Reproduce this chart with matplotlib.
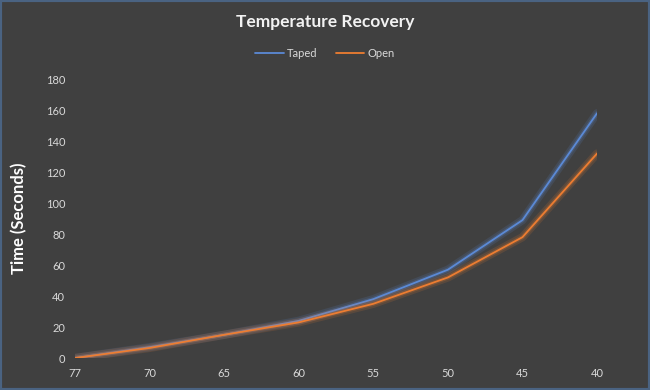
import matplotlib.pyplot as plt
import matplotlib.patheffects as pe
import numpy as np

plt.rcParams["font.family"] = ["Lato", "DejaVu Sans"]

# Données
temps = ["77", "70", "65", "60", "55", "50", "45", "40"]
taped = [0, 7, 15, 24, 38, 57, 89, 158]
open_ = [0, 6.5, 15, 23, 35, 52, 78, 132]

bg = "#404040"
txt = "#D9D9D9"
blue = "#5B8AD6"
orange = "#ED7D31"

fig = plt.figure(figsize=(6.5, 3.9), dpi=100, facecolor=bg)
fig.patches.append(
    plt.Rectangle((0, 0), 1, 1, transform=fig.transFigure, fill=False,
                  edgecolor="#4A6382", linewidth=3)
)
ax = fig.add_axes([0.1154, 0.082, 0.8031, 0.715])
ax.set_facecolor(bg)

x = np.arange(len(temps))
for y, c, name in [(taped, blue, "Taped"), (open_, orange, "Open")]:
    ax.plot(x, y, color=c, lw=1.3, label=name, solid_capstyle="round",
            path_effects=[pe.Stroke(linewidth=6, foreground=c, alpha=0.15),
                          pe.Stroke(linewidth=3.2, foreground=c, alpha=0.22),
                          pe.Normal()])

ax.set_xlim(0, len(temps) - 1)
ax.set_ylim(0, 180)
ax.set_xticks(x)
ax.set_xticklabels(temps)
ax.set_yticks(np.arange(0, 181, 20))
ax.tick_params(colors=txt, labelsize=8, length=0, pad=7)
for s in ax.spines.values():
    s.set_visible(False)

ax.set_ylabel("Time (Seconds)", color="white", fontsize=12, fontweight="bold",
              labelpad=13)
fig.text(0.5, 0.943, "Temperature Recovery", ha="center", va="center",
         color="#F2F2F2", fontsize=12.5, fontweight="bold")

leg = fig.legend(loc="center", bbox_to_anchor=(0.5, 0.864), ncol=2,
                 frameon=False, fontsize=8, labelcolor=txt,
                 handlelength=2.6, columnspacing=1.6, handletextpad=0.3)
for h in leg.legend_handles:
    h.set_path_effects([])

fig.savefig("out.png", dpi=100, facecolor=bg)
